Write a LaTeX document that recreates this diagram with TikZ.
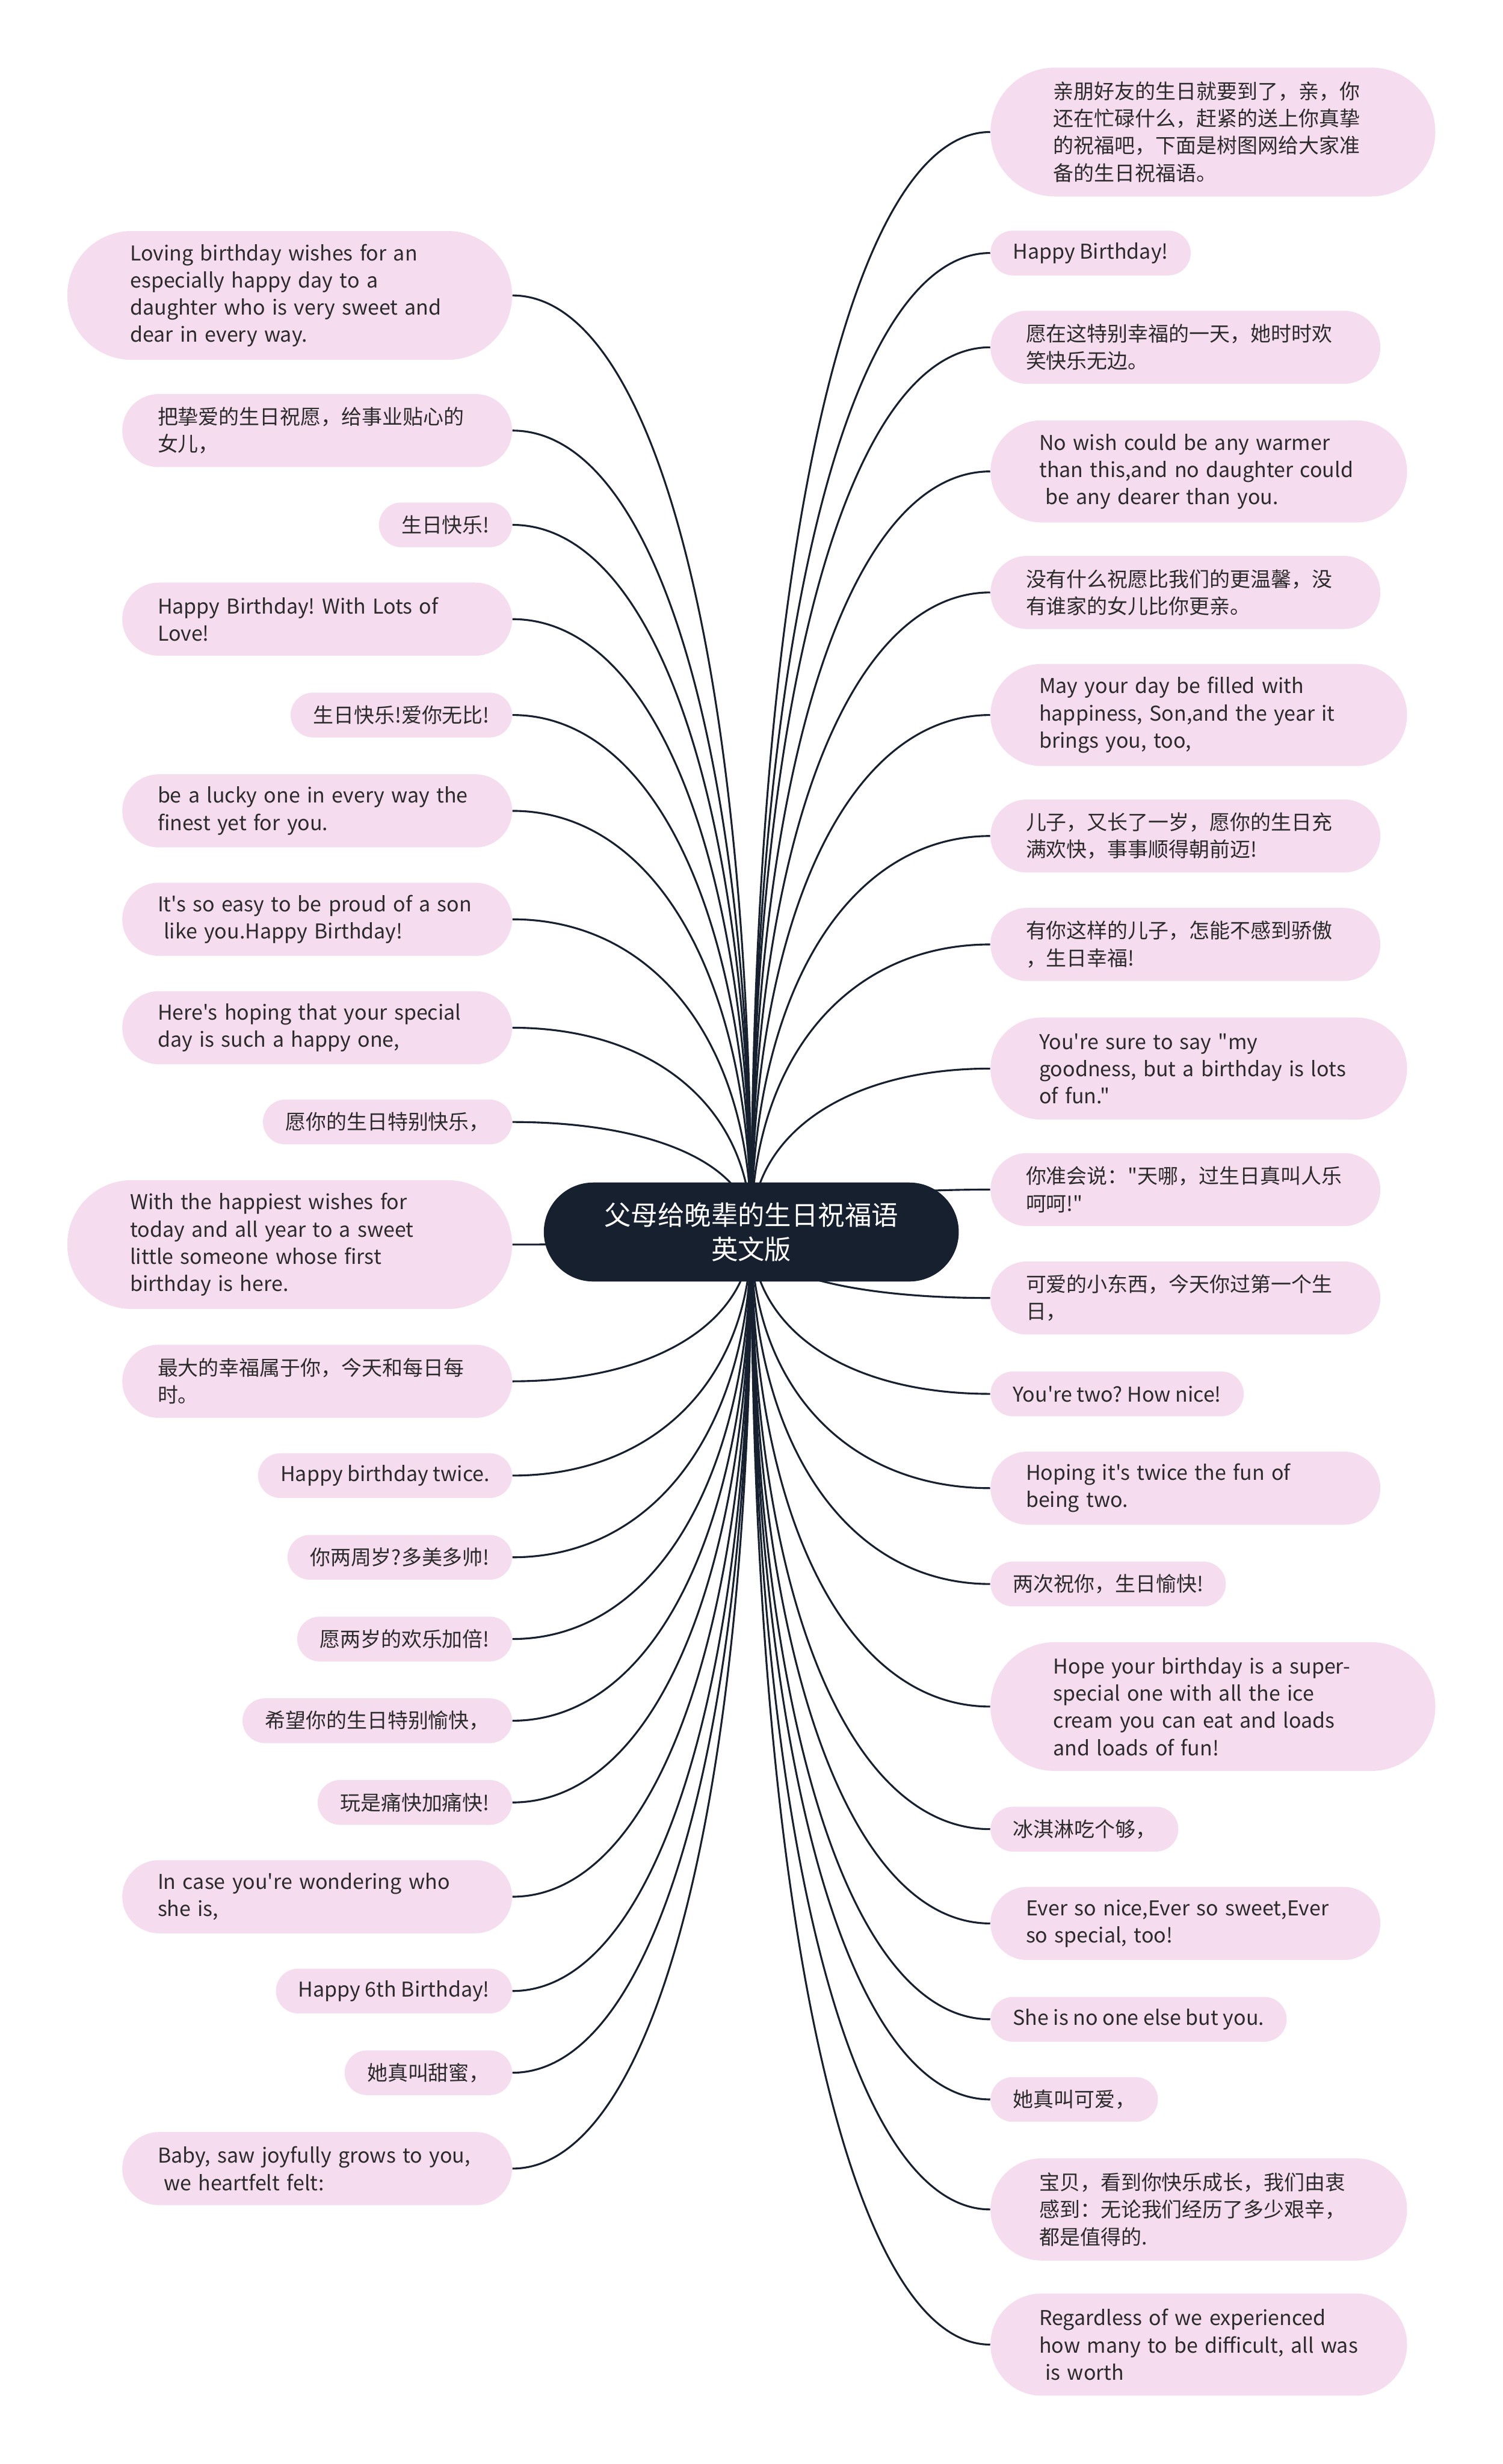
\documentclass[tikz,border=0pt]{standalone}
\usepackage{fontspec}
\setmainfont[Ligatures=TeXOff]{Noto Sans CJK SC}
\usepackage{tikz}
\usetikzlibrary{backgrounds,calc}
\definecolor{navy}{HTML}{16202F}
\definecolor{petal}{HTML}{F5DCEF}
\definecolor{ink}{HTML}{2B2B2B}
\frenchspacing
\newcommand\wishfont{\fontsize{13}{17.3}\selectfont}
\newcommand\topicfont{\fontsize{17}{22}\selectfont}
\tikzset{
  wish/.style={fill=petal,text=ink,font=\wishfont,inner ysep=3pt,align=left},
  oneline/.style={wish,minimum height=28.5pt,rounded corners=14.25pt,inner xsep=14.25pt},
  twoline/.style={wish,text width=203pt,minimum height=46.5pt,rounded corners=23.25pt,inner xsep=22.5pt},
  threeline/.style={wish,text width=203pt,minimum height=65pt,rounded corners=32.5pt,inner xsep=31pt},
  fourline/.style={wish,text width=203pt,minimum height=82pt,rounded corners=41pt,inner xsep=40pt},
  topic/.style={fill=navy,text=white,font=\topicfont,text width=204pt,align=center,minimum height=63pt,rounded corners=31.5pt,inner xsep=30pt},
  link/.style={draw=navy,line width=1.2pt},
  branch/.style={to path={.. controls ($(\tikztostart)!0.6!(\tikztostart |- \tikztotarget)$) and ($(\tikztotarget)!0.6!(\tikztostart |- \tikztotarget)$) .. (\tikztotarget)}}
}
\begin{document}
\begin{tikzpicture}[x=1pt,y=-1pt]
\useasboundingbox (0,0) rectangle (956,1568);
\node[topic] (root) at (478,784) {父母给晚辈的生日祝福语\\英文版};

\node[fourline,anchor=east] (l1) at (326,188) {Loving birthday wishes for an\\especially happy day to a\\daughter who is very sweet and\\dear in every way.};
\node[twoline,anchor=east] (l2) at (326,274) {把挚爱的生日祝愿，给事业贴心的\\女儿，};
\node[oneline,anchor=east] (l3) at (326,334) {生日快乐!};
\node[twoline,anchor=east] (l4) at (326,394) {Happy Birthday! With Lots of\\Love!};
\node[oneline,anchor=east] (l5) at (326,455) {生日快乐!爱你无比!};
\node[twoline,anchor=east] (l6) at (326,516) {be a lucky one in every way the\\finest yet for you.};
\node[twoline,anchor=east] (l7) at (326,585) {It's so easy to be proud of a son\\\hspace*{.3em}like you.Happy Birthday!};
\node[twoline,anchor=east] (l8) at (326,654) {Here's hoping that your special\\day is such a happy one,};
\node[oneline,anchor=east] (l9) at (326,714) {愿你的生日特别快乐，};
\node[fourline,anchor=east] (l10) at (326,792) {With the happiest wishes for\\today and all year to a sweet\\little someone whose first\\birthday is here.};
\node[twoline,anchor=east] (l11) at (326,879) {最大的幸福属于你，今天和每日每\\时。};
\node[oneline,anchor=east] (l12) at (326,939) {Happy birthday twice.};
\node[oneline,anchor=east] (l13) at (326,991) {你两周岁?多美多帅!};
\node[oneline,anchor=east] (l14) at (326,1043) {愿两岁的欢乐加倍!};
\node[oneline,anchor=east] (l15) at (326,1095) {希望你的生日特别愉快，};
\node[oneline,anchor=east] (l16) at (326,1147) {玩是痛快加痛快!};
\node[twoline,anchor=east] (l17) at (326,1207) {In case you're wondering who\\she is,};
\node[oneline,anchor=east] (l18) at (326,1267) {Happy 6th Birthday!};
\node[oneline,anchor=east] (l19) at (326,1319) {她真叫甜蜜，};
\node[twoline,anchor=east] (l20) at (326,1380) {Baby, saw joyfully grows to you,\\\hspace*{.3em}we heartfelt felt:};

\node[fourline,anchor=west] (r1) at (630,84) {亲朋好友的生日就要到了，亲，你\\还在忙碌什么，赶紧的送上你真挚\\的祝福吧，下面是树图网给大家准\\备的生日祝福语。};
\node[oneline,anchor=west] (r2) at (630,161) {Happy Birthday!};
\node[twoline,anchor=west] (r3) at (630,221) {愿在这特别幸福的一天，她时时欢\\笑快乐无边。};
\node[threeline,anchor=west] (r4) at (630,300) {No wish could be any warmer\\than this,and no daughter could\\\hspace*{.3em}be any dearer than you.};
\node[twoline,anchor=west] (r5) at (630,377) {没有什么祝愿比我们的更温馨，没\\有谁家的女儿比你更亲。};
\node[threeline,anchor=west] (r6) at (630,455) {May your day be filled with\\happiness, Son,and the year it\\brings you, too,};
\node[twoline,anchor=west] (r7) at (630,532) {儿子，又长了一岁，愿你的生日充\\满欢快，事事顺得朝前迈!};
\node[twoline,anchor=west] (r8) at (630,601) {有你这样的儿子，怎能不感到骄傲\\，生日幸福!};
\node[threeline,anchor=west] (r9) at (630,680) {You're sure to say "my\\goodness, but a birthday is lots\\of fun."};
\node[twoline,anchor=west] (r10) at (630,757) {你准会说："天哪，过生日真叫人乐\\呵呵!"};
\node[twoline,anchor=west] (r11) at (630,826) {可爱的小东西，今天你过第一个生\\日，};
\node[oneline,anchor=west] (r12) at (630,887) {You're two? How nice!};
\node[twoline,anchor=west] (r13) at (630,947) {Hoping it's twice the fun of\\being two.};
\node[oneline,anchor=west] (r14) at (630,1008) {两次祝你，生日愉快!};
\node[fourline,anchor=west] (r15) at (630,1086) {Hope your birthday is a super-\\special one with all the ice\\cream you can eat and loads\\and loads of fun!};
\node[oneline,anchor=west] (r16) at (630,1164) {冰淇淋吃个够，};
\node[twoline,anchor=west] (r17) at (630,1224) {Ever so nice,Ever so sweet,Ever\\so special, too!};
\node[oneline,anchor=west] (r18) at (630,1285) {She is no one else but you.};
\node[oneline,anchor=west] (r19) at (630,1336) {她真叫可爱，};
\node[threeline,anchor=west] (r20) at (630,1406) {宝贝，看到你快乐成长，我们由衷\\感到：无论我们经历了多少艰辛，\\都是值得的.};
\node[threeline,anchor=west] (r21) at (630,1492) {Regardless of we experienced\\how many to be difficult, all was\\\hspace*{.3em}is worth};

\begin{scope}[on background layer]
\foreach \i in {1,...,20} \draw[link] (root.center) to[branch] (l\i.east);
\foreach \i in {1,...,21} \draw[link] (root.center) to[branch] (r\i.west);
\end{scope}
\end{tikzpicture}
\end{document}
